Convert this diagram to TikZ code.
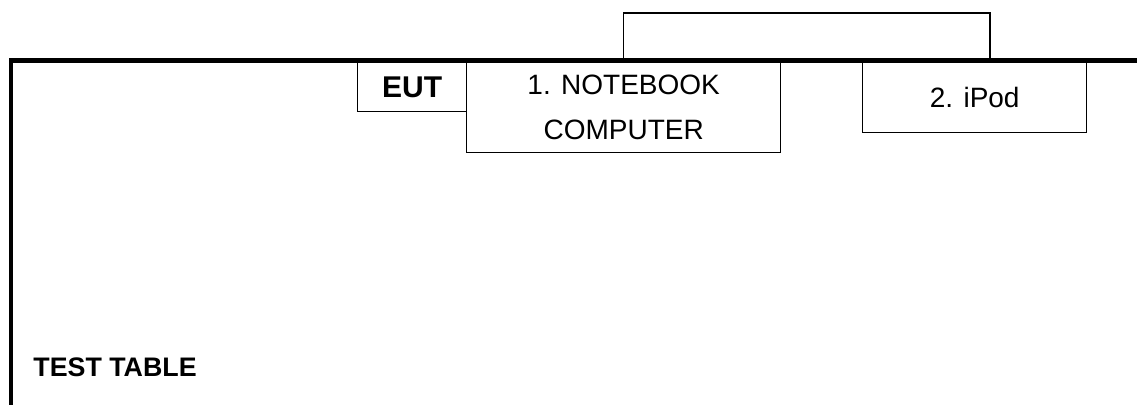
\documentclass[tikz,border=0pt]{standalone}
\usepackage{fontspec}
\setmainfont{Liberation Sans}
\usetikzlibrary{calc}

\begin{document}
\begin{tikzpicture}[x=0.5pt, y=-0.5pt,
    box/.style = {draw, line width=0.7pt, inner sep=0pt, anchor=north west,
                  font=\fontsize{14pt}{22.5pt}\selectfont, align=center},
    tableedge/.style = {line width=2.25pt},
    cable/.style = {line width=0.7pt}]
    \useasboundingbox (0,0) rectangle (1137,405);
    \coordinate (cr) at (990, 13);
    \node[box, minimum width=54.5pt, minimum height=24.5pt, font=\fontsize{15pt}{17pt}\selectfont\bfseries] (eut) at (357,62) {EUT};
    \node[box, minimum width=157pt, minimum height=45pt] (nb) at (466,62) {1. NOTEBOOK\\COMPUTER};
    \node[box, minimum width=112pt, minimum height=35pt] (ipod) at (862,62) {2. iPod};
    \draw[cable] (nb.north) |- (cr) -- (cr |- ipod.north);
    \draw[tableedge] (11,405) -- (11,60.5) -- (1137,60.5);
    \node[anchor=base west, inner sep=0pt, font=\fontsize{13.4pt}{15pt}\selectfont\bfseries] (table) at (33,377) {TEST TABLE};
  \end{tikzpicture}
\end{document}
